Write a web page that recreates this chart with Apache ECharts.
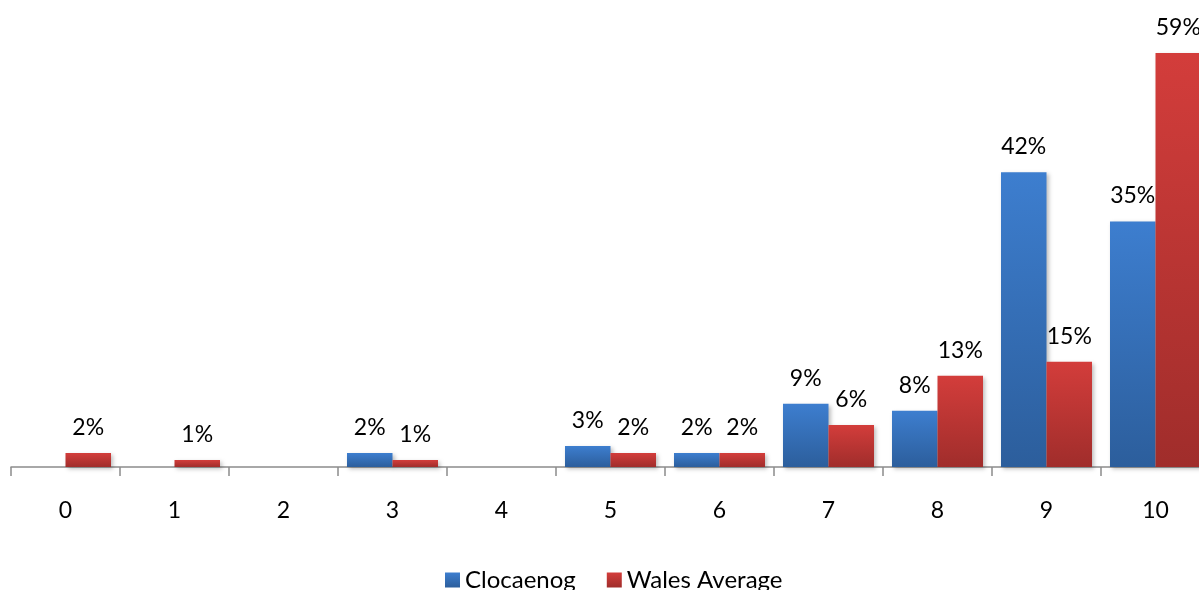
<!DOCTYPE html>
<html>
<head>
<meta charset="utf-8">
<script src="https://cdn.jsdelivr.net/npm/echarts@6/dist/echarts.min.js"></script>
<style>
html,body{margin:0;padding:0;background:#fff;}
#chart{width:1199px;height:590px;}
</style>
</head>
<body>
<div id="chart"></div>
<script>
const categories = ['0','1','2','3','4','5','6','7','8','9','10'];
const clocaenog = [0, 0, 0, 2, 0, 3, 2, 9, 8, 42, 35];
const walesAverage = [2, 1, 0, 1, 0, 2, 2, 6, 13, 15, 59];
const seriesNames = ['Clocaenog', 'Wales Average'];

const FONT = 'Lato';
function grad(top, bottom) {
  return new echarts.graphic.LinearGradient(0, 0, 0, 1, [
    {offset: 0, color: top}, {offset: 1, color: bottom}
  ]);
}
const labelCfg = {
  show: true,
  position: 'top',
  distance: 14,
  color: '#000',
  fontFamily: FONT,
  fontSize: 23,
  formatter: p => p.value ? p.value + '%' : ''
};
const chart = echarts.init(document.getElementById('chart'));
chart.setOption({
  animation: false,
  backgroundColor: '#fff',
  legend: {
    data: seriesNames,
    left: 440,
    top: 563,
    icon: 'rect',
    itemWidth: 15,
    itemHeight: 15,
    itemGap: 31,
    textStyle: {fontFamily: FONT, fontSize: 24, color: '#000'}
  },
  grid: {left: 11, right: -11, top: 46, bottom: 123, containLabel: false, outerBoundsMode: 'none'},
  xAxis: {
    type: 'category',
    data: categories,
    axisLine: {lineStyle: {color: '#8c8c8c', width: 1.5}},
    axisTick: {show: true, length: 9, lineStyle: {color: '#8c8c8c', width: 1.5}},
    axisLabel: {fontFamily: FONT, fontSize: 23, color: '#000', margin: 32}
  },
  yAxis: {
    type: 'value', min: 0, max: 60, show: false,
    splitLine: {show: false}
  },
  series: [
    {
      name: seriesNames[0], type: 'bar', data: clocaenog,
      barGap: '0%', barCategoryGap: '16.5%',
      itemStyle: {color: grad('#3d7ecf', '#2c5e9c'), shadowBlur: 4, shadowColor: 'rgba(0,0,0,0.25)', shadowOffsetX: 2, shadowOffsetY: 2},
      label: labelCfg
    },
    {
      name: seriesNames[1], type: 'bar', data: walesAverage,
      barGap: '0%', barCategoryGap: '16.5%',
      itemStyle: {color: grad('#d33d3b', '#a02d2b'), shadowBlur: 4, shadowColor: 'rgba(0,0,0,0.25)', shadowOffsetX: 2, shadowOffsetY: 2},
      label: labelCfg
    }
  ]
});
</script>
</body>
</html>
